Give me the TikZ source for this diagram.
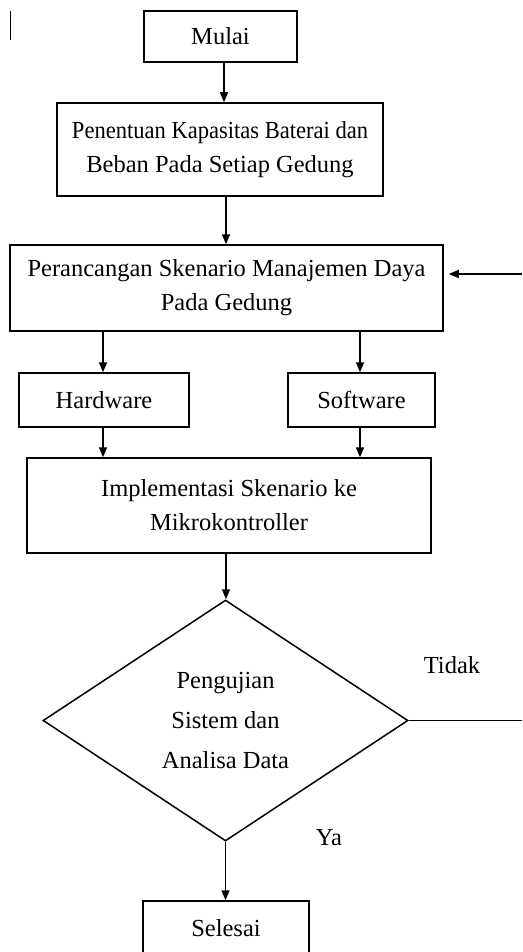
\documentclass[tikz,border=0pt]{standalone}
\usepackage{fontspec}
\usepackage{graphicx}
\setmainfont{Liberation Serif}
\usetikzlibrary{arrows.meta,shapes.geometric}
\begin{document}
\begin{tikzpicture}[x=1pt,y=-1pt,
  box/.style={draw, line width=1.5pt, rectangle, inner sep=0pt, align=center, font=\fontsize{24.5}{34}\selectfont},
  dec/.style={draw, line width=1.5pt, diamond, aspect=1.515, inner sep=0pt, align=center, font=\fontsize{24.5}{40}\selectfont},
  lbl/.style={inner sep=0pt, font=\fontsize{24.5}{28}\selectfont},
  line/.style={line width=1.5pt},
  arr/.style={line width=1.5pt, -{Triangle[length=10pt,width=8pt]}}]
\useasboundingbox (0,0) rectangle (522,952);
\coordinate (c1) at (10,11);
\coordinate (c2) at (10,40);
\draw[line width=1pt] (c1) -- (c2);

\node[box, minimum width=153pt, minimum height=51pt] (mulai) at (220.5,36.5) {Mulai};
\node[box, minimum width=326pt, minimum height=93pt] (kap) at (220,149.5) {\scalebox{0.92}[1]{Penentuan Kapasitas Baterai dan}\\Beban Pada Setiap Gedung};
\node[box, minimum width=433pt, minimum height=86pt] (ran) at (226.5,288) {Perancangan Skenario Manajemen Daya\\Pada Gedung};
\node[box, minimum width=170pt, minimum height=54pt] (hw) at (104,400) {Hardware};
\node[box, minimum width=147pt, minimum height=54pt] (sw) at (361.5,400) {Software};
\node[box, minimum width=404pt, minimum height=95pt] (imp) at (229,505.5) {Implementasi Skenario ke\\Mikrokontroller};
\node[dec, minimum width=365pt, minimum height=241pt] (uji) at (225.5,720.5) {Pengujian\\Sistem dan\\Analisa Data};
\node[box, minimum width=166pt, minimum height=55pt] (sel) at (226,928.5) {Selesai};

\node[lbl] (tidak) at (452,665) {Tidak};
\node[lbl] (ya) at (329,838) {Ya};

\draw[arr] ([xshift=3.5pt]mulai.south) -- ([xshift=3.5pt]mulai.south |- kap.north);
\draw[arr] ([xshift=6pt]kap.south) -- ([xshift=6pt]kap.south |- ran.north);
\draw[arr] ([xshift=-1pt]hw.north |- ran.south) -- ([xshift=-1pt]hw.north);
\draw[arr] ([xshift=-1.5pt]sw.north |- ran.south) -- ([xshift=-1.5pt]sw.north);
\draw[arr] ([xshift=-1pt]hw.south) -- ([xshift=-1pt]hw.south |- imp.north);
\draw[arr] ([xshift=-1.5pt]sw.south) -- ([xshift=-1.5pt]sw.south |- imp.north);
\draw[arr] ([xshift=-3pt]imp.south) -- ([xshift=-3pt]imp.south |- uji.north);
\draw[arr] (uji.south) -- (uji.south |- sel.north);

\coordinate (fbR) at (522,720.5);
\coordinate (fbT) at (522,274);
\draw[line] (uji.east) -- (fbR);
\draw[arr] (fbT) -- ([xshift=5pt]ran.east |- fbT);
\end{tikzpicture}
\end{document}
